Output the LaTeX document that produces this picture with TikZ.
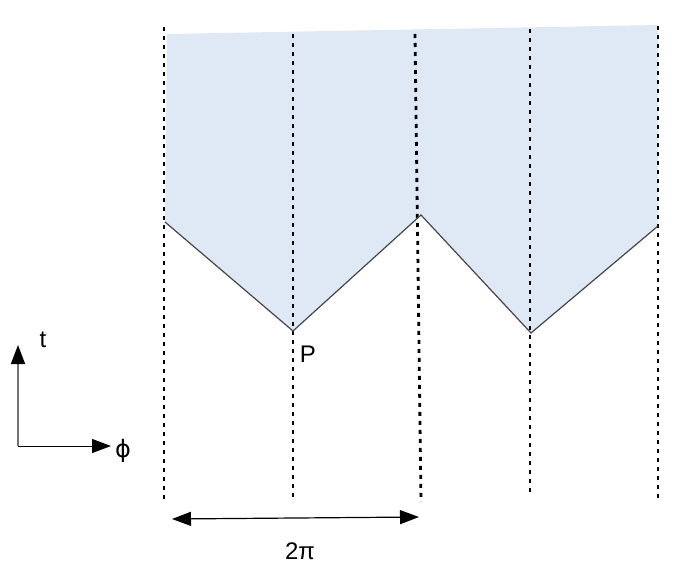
\documentclass[tikz,border=0pt]{standalone}
\usepackage{fontspec}
\setmainfont{Liberation Sans}
\newfontfamily\phifont{DejaVu Sans}
\usetikzlibrary{arrows.meta}
\definecolor{bgblue}{RGB}{223,232,245}
\definecolor{edge}{RGB}{70,70,70}
\tikzset{
  guide/.style={line width=2.8pt, dash pattern=on 4pt off 5pt, black},
  bound/.style={line width=1.2pt, edge},
  lbl/.style={font=\fontsize{24}{28}\selectfont, inner sep=0pt},
  tip/.style={-{Triangle[length=19pt,width=14pt,color=black,fill=black]}},
}
\begin{document}
\begin{tikzpicture}[x=1pt,y=-1pt]
\useasboundingbox (0,0) rectangle (686,576);
% boundary vertices
\coordinate (v1) at (165,222);
\coordinate (v2) at (293,331);
\coordinate (v3) at (421,215);
\coordinate (v4) at (531,333);
\coordinate (v5) at (658,226);
\coordinate (tl) at (167,34);
\coordinate (tr) at (658,25);
% shaded region
\fill[bgblue] (tl) -- (tr) -- (v5) -- (v4) -- (v3) -- (v2) -- (v1) -- cycle;
% dotted guides
\coordinate (g1t) at (164,27);  \coordinate (g1b) at (164,502);
\coordinate (g2t) at (293,34);  \coordinate (g2b) at (293,502);
\coordinate (g3t) at (415,34);  \coordinate (g3b) at (421,502);
\coordinate (g4t) at (530,29);  \coordinate (g4b) at (530,496);
\coordinate (g5t) at (658,26);  \coordinate (g5b) at (658,502);
\foreach \i in {1,...,5} \draw[guide] (g\i t) -- (g\i b);
% boundary
\draw[bound] (v1) -- (v2) -- (v3) -- (v4) -- (v5);
\node[lbl] (P) at (308,354) {P};
% axes
\coordinate (o) at (18,446);
\coordinate (tt) at (18,345);
\coordinate (pt) at (111,446);
\draw[tip, line width=1.5pt, gray!90!black] (o) -- (tt);
\draw[tip, line width=1pt, black] (o) -- (pt);
\node[lbl] (t) at (43,340) {t};
\node[lbl] (phi) at (123,451) {\phifont ϕ};
% 2pi span
\coordinate (a1) at (172,519);
\coordinate (a2) at (419,517);
\draw[{Triangle[length=19pt,width=14pt]}-{Triangle[length=19pt,width=14pt]}, line width=1.2pt] (a1) -- (a2);
\node[lbl] (twopi) at (300,551) {2π};
\end{tikzpicture}
\end{document}
